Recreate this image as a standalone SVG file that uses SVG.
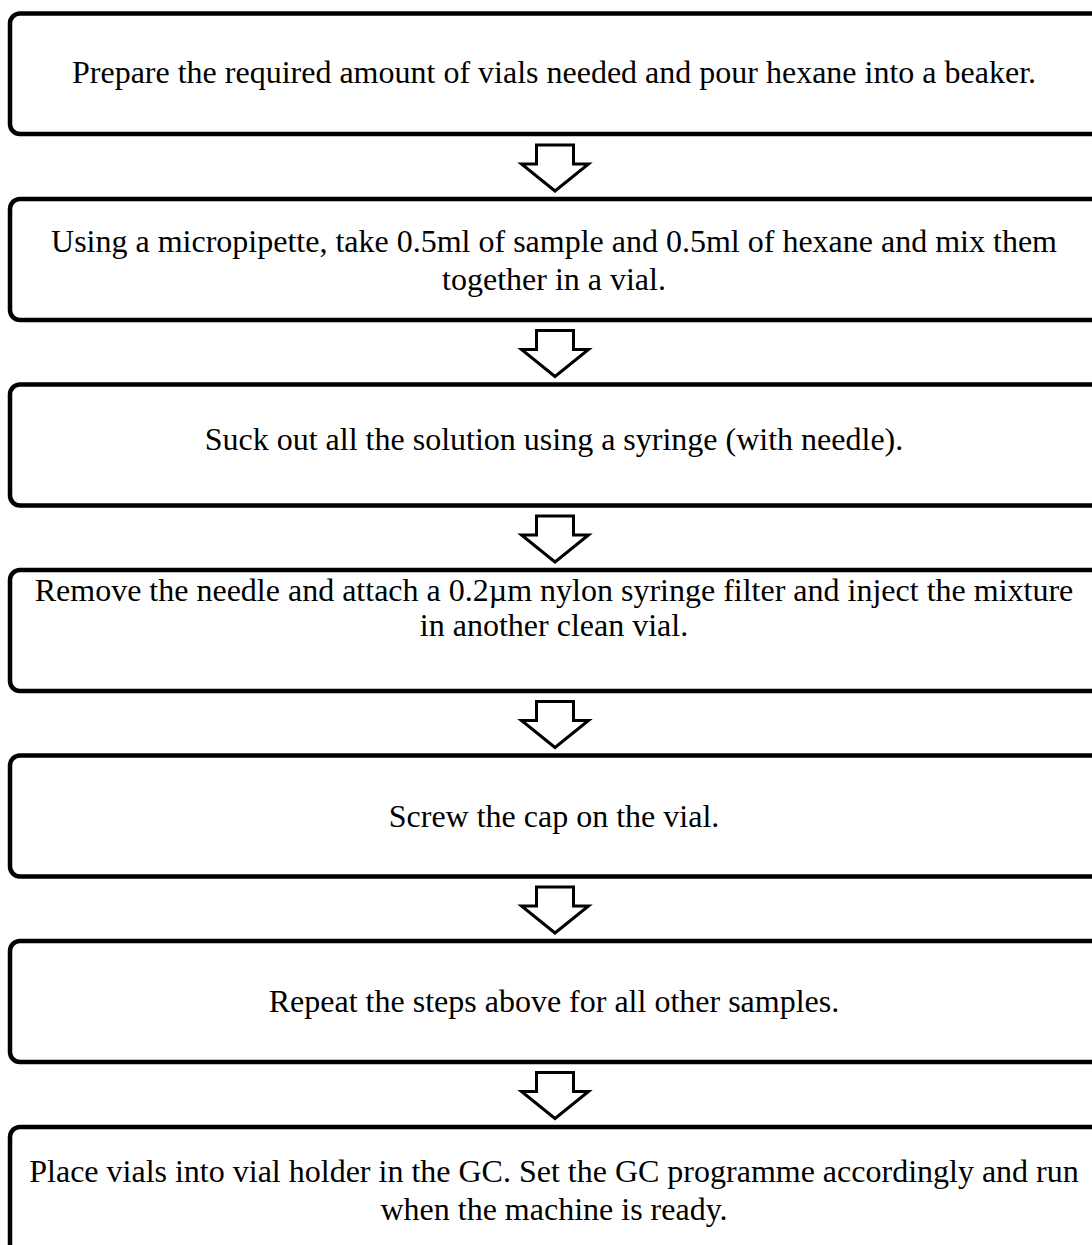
<svg xmlns="http://www.w3.org/2000/svg" width="1092" height="1245" viewBox="0 0 1092 1245">
<style>
.box{fill:#fff;stroke:#000;stroke-width:4.5}
.arr{fill:#fff;stroke:#000;stroke-width:3;stroke-linejoin:miter}
text{font-family:"Liberation Serif","Times New Roman",serif;font-size:32px;fill:#000;text-anchor:middle}
</style>
<defs>
<path id="arrow" d="M-18.5,0 H18.5 V19 H33.5 L0,46 L-33.5,19 H-18.5 Z"/>
</defs>
<rect width="1092" height="1245" fill="#fff"/>
<g id="connectors">
<use href="#arrow" class="arr" x="555" y="145"/>
<use href="#arrow" class="arr" x="555" y="330.5"/>
<use href="#arrow" class="arr" x="555" y="516"/>
<use href="#arrow" class="arr" x="555" y="701.5"/>
<use href="#arrow" class="arr" x="555" y="887"/>
<use href="#arrow" class="arr" x="555" y="1072.5"/>
</g>
<g id="node1"><rect class="box" x="10" y="13.5" width="1100" height="120.5" rx="10"/><text x="554" y="83">Prepare the required amount of vials needed and pour hexane into a beaker.</text></g>
<g id="node2"><rect class="box" x="10" y="199" width="1100" height="121" rx="10"/><text x="554" y="252">Using a micropipette, take 0.5ml of sample and 0.5ml of hexane and mix them</text><text x="554" y="290">together in a vial.</text></g>
<g id="node3"><rect class="box" x="10" y="384.5" width="1100" height="121" rx="10"/><text x="554" y="450">Suck out all the solution using a syringe (with needle).</text></g>
<g id="node4"><rect class="box" x="10" y="570" width="1100" height="121" rx="10"/><text x="554" y="601">Remove the needle and attach a 0.2µm nylon syringe filter and inject the mixture</text><text x="554" y="636">in another clean vial.</text></g>
<g id="node5"><rect class="box" x="10" y="755.5" width="1100" height="121" rx="10"/><text x="554" y="827">Screw the cap on the vial.</text></g>
<g id="node6"><rect class="box" x="10" y="941" width="1100" height="121" rx="10"/><text x="554" y="1012">Repeat the steps above for all other samples.</text></g>
<g id="node7"><rect class="box" x="10" y="1127" width="1100" height="130" rx="10"/><text x="554" y="1182">Place vials into vial holder in the GC. Set the GC programme accordingly and run</text><text x="554" y="1220">when the machine is ready.</text></g>
</svg>
